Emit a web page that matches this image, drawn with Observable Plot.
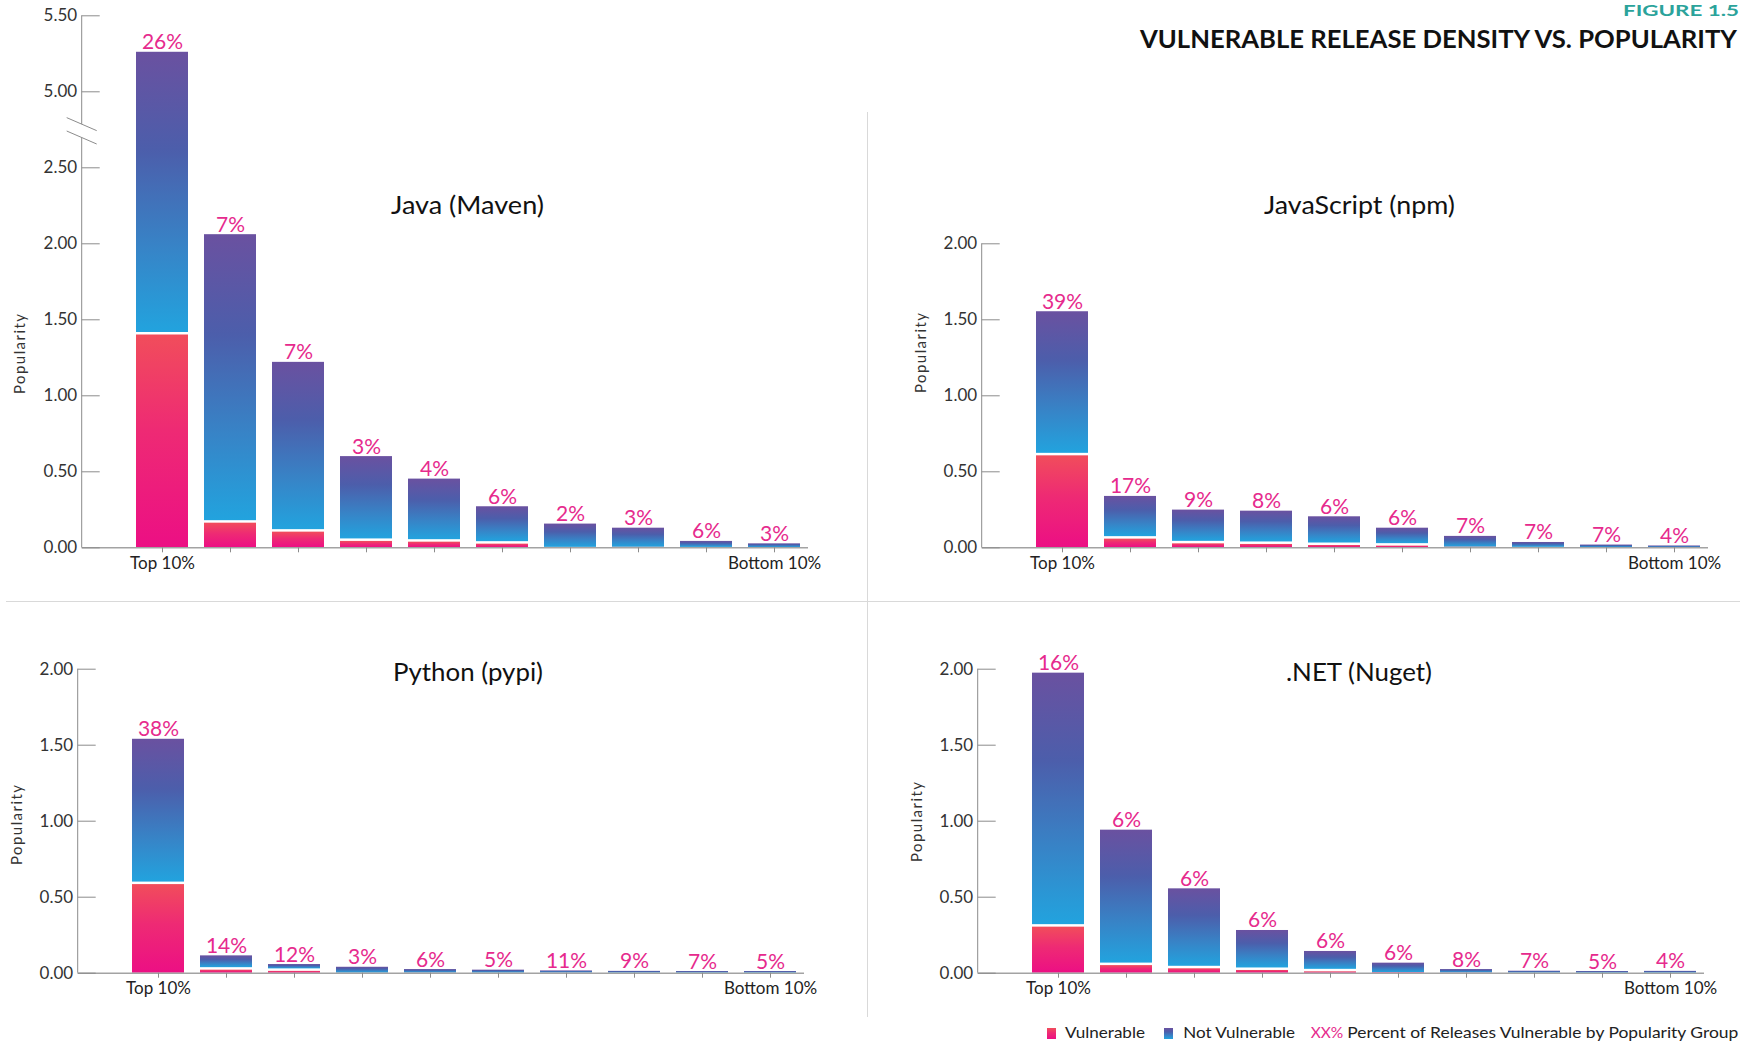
<!DOCTYPE html>
<html><head><meta charset="utf-8">
<script src="https://cdn.jsdelivr.net/npm/d3@7"></script>
<script src="https://cdn.jsdelivr.net/npm/@observablehq/plot@0.6"></script>
<style>
html,body{margin:0;padding:0;background:#fff;}
#root{position:relative;width:1762px;height:1044px;overflow:hidden;font-family:Lato,"Open Sans",sans-serif;}
.panel{position:absolute;}
#overlay{position:absolute;left:0;top:0;pointer-events:none;}
</style></head><body>
<div id="root">
<svg width="0" height="0" style="position:absolute">
 <defs>
  <linearGradient id="gVuln" x1="0" y1="1" x2="0" y2="0">
    <stop offset="0" stop-color="#EC0F84"/>
    <stop offset="0.55" stop-color="#EE2A74"/>
    <stop offset="1" stop-color="#F14D5B"/>
  </linearGradient>
  <linearGradient id="gSafe" x1="0" y1="1" x2="0" y2="0">
    <stop offset="0" stop-color="#22A3DE"/>
    <stop offset="0.3" stop-color="#3784C7"/>
    <stop offset="0.65" stop-color="#4C5EAB"/>
    <stop offset="1" stop-color="#6A51A0"/>
  </linearGradient>
 </defs>
</svg>
<div id="p-java" class="panel" style="left:0;top:0"></div>
<div id="p-npm" class="panel" style="left:900px;top:0"></div>
<div id="p-pypi" class="panel" style="left:0;top:600px"></div>
<div id="p-nuget" class="panel" style="left:900px;top:600px"></div>
<svg id="overlay" width="1762" height="1044" font-family="Lato, sans-serif">
 <line x1="867.5" y1="112" x2="867.5" y2="1017" stroke="#d9d9d9"/>
 <line x1="6" y1="601.5" x2="1740" y2="601.5" stroke="#d9d9d9"/>
 <text x="1739" y="16" text-anchor="end" font-weight="700" font-size="15.5" fill="#2BA39B" textLength="116" lengthAdjust="spacingAndGlyphs">FIGURE 1.5</text>
 <text x="1737" y="47.7" text-anchor="end" font-weight="700" font-size="25" fill="#111" textLength="597" lengthAdjust="spacingAndGlyphs">VULNERABLE RELEASE DENSITY VS. POPULARITY</text>
 <g font-size="25" fill="#111" text-anchor="middle">
  <text x="467.5" y="214" textLength="153" lengthAdjust="spacingAndGlyphs">Java (Maven)</text>
  <text x="1359.5" y="214" textLength="191" lengthAdjust="spacingAndGlyphs">JavaScript (npm)</text>
  <text x="468" y="680.5" textLength="150" lengthAdjust="spacingAndGlyphs">Python (pypi)</text>
  <text x="1359" y="680.5" textLength="146" lengthAdjust="spacingAndGlyphs">.NET (Nuget)</text>
 </g>
 <g font-size="15" fill="#333" text-anchor="middle">
  <text transform="translate(24.5,354) rotate(-90)" textLength="80" lengthAdjust="spacing">Popularity</text>
  <text transform="translate(926,353) rotate(-90)" textLength="80" lengthAdjust="spacing">Popularity</text>
  <text transform="translate(21.5,825) rotate(-90)" textLength="80" lengthAdjust="spacing">Popularity</text>
  <text transform="translate(922,822) rotate(-90)" textLength="80" lengthAdjust="spacing">Popularity</text>
 </g>
 <g font-size="15" fill="#222">
  <rect x="1047" y="1028" width="9" height="11" fill="url(#gVuln)"/>
  <text x="1065" y="1038.3" textLength="80" lengthAdjust="spacingAndGlyphs">Vulnerable</text>
  <rect x="1164" y="1028" width="9" height="11" fill="url(#gSafe)"/>
  <text x="1183.3" y="1038.3" textLength="111.7" lengthAdjust="spacingAndGlyphs">Not Vulnerable</text>
  <text x="1310.7" y="1038.3" fill="#E62A8D" textLength="32.6" lengthAdjust="spacingAndGlyphs">XX%</text>
  <text x="1347.3" y="1038.3" textLength="391" lengthAdjust="spacingAndGlyphs">Percent of Releases Vulnerable by Popularity Group</text>
 </g>
</svg>
</div>
<script>
// popularity groups (deciles)
const groups = ["D1","D2","D3","D4","D5","D6","D7","D8","D9","D10"];
const groupLabels = ["Top 10%","","","","","","","","","Bottom 10%"];

// Java (Maven)
const javaTotal = [5.26, 2.06, 1.22, 0.60, 0.452, 0.270, 0.156, 0.129, 0.042, 0.026];
const javaVuln  = [1.40, 0.162, 0.103, 0.042, 0.037, 0.024, 0.003, 0.004, 0.0025, 0.001];
const javaPct   = [26, 7, 7, 3, 4, 6, 2, 3, 6, 3];

// JavaScript (npm)
const npmTotal = [1.553, 0.338, 0.248, 0.241, 0.204, 0.129, 0.075, 0.035, 0.018, 0.012];
const npmVuln  = [0.605, 0.057, 0.026, 0.022, 0.015, 0.011, 0.005, 0.003, 0.001, 0.0004];
const npmPct   = [39, 17, 9, 8, 6, 6, 7, 7, 7, 4];

// Python (pypi)
const pypiTotal = [1.539, 0.114, 0.057, 0.039, 0.024, 0.020, 0.015, 0.012, 0.011, 0.011];
const pypiVuln  = [0.583, 0.020, 0.012, 0.001, 0.0015, 0.001, 0.0016, 0.001, 0.0006, 0.0005];
const pypiPct   = [38, 14, 12, 3, 6, 5, 11, 9, 7, 5];

// .NET (Nuget)
const nugetTotal = [1.974, 0.941, 0.555, 0.281, 0.143, 0.066, 0.024, 0.013, 0.011, 0.012];
const nugetVuln  = [0.303, 0.050, 0.029, 0.018, 0.009, 0.004, 0.002, 0.001, 0.0003, 0.0004];
const nugetPct   = [16, 6, 6, 6, 6, 6, 8, 7, 5, 4];

// y axis ticks
const javaTicks = [0, 0.5, 1, 1.5, 2, 2.5, 5, 5.5];
const stdTicks = [0, 0.5, 1, 1.5, 2];

const labelMap = new Map(groups.map((g, i) => [g, groupLabels[i]]));
const PINK = "#E62A8D";
const AXIS = "#8c8c8c";
const GAP_MIN = 0.008;

function axisLineMark(segs, breaks) {
  return (index, scales, values, dims) => {
    const y = scales.y, x0 = dims.marginLeft;
    const g = d3.create("svg:g").attr("stroke", AXIS).attr("stroke-width", 1).attr("fill", "none");
    for (const [a, b] of segs) g.append("line").attr("x1", x0).attr("x2", x0).attr("y1", y(a)).attr("y2", y(b));
    for (const v of breaks) g.append("line").attr("x1", x0 - 15).attr("y1", y(v) - 6.5).attr("x2", x0 + 15).attr("y2", y(v) + 6.5);
    return g.node();
  };
}

function panel(sel, cfg) {
  const {total, vuln, pct, yDomain, yRange, yTicks, segs, breaks, height, shift} = cfg;
  const rows = groups.map((g, i) => ({group: g, total: total[i], vuln: vuln[i], pct: pct[i]}));
  const W = 860;
  const chart = Plot.plot({
    width: W, height,
    marginTop: yRange[yRange.length - 1],
    marginBottom: height - yRange[0],
    marginLeft: 81.7 + shift,
    marginRight: W - (808 + shift),
    style: {background: "none", fontFamily: "Lato, sans-serif", overflow: "visible"},
    x: {type: "band", domain: groups, range: [134 + shift, 801.6 + shift], paddingInner: 0.24, paddingOuter: 0, align: 0.5},
    y: {type: "linear", domain: yDomain, range: yRange},
    marks: [
      Plot.barY(rows, {x: "group", y1: 0, y2: "vuln", fill: "url(#gVuln)"}),
      Plot.barY(rows, {filter: d => d.vuln >= GAP_MIN, x: "group", y1: "vuln", y2: "total", fill: "url(#gSafe)", insetBottom: 2.5}),
      Plot.barY(rows, {filter: d => d.vuln < GAP_MIN, x: "group", y1: "vuln", y2: "total", fill: "url(#gSafe)"}),
      Plot.ruleY([0], {stroke: "#a3a3a3", strokeWidth: 1.5}),
      axisLineMark(segs, breaks),
      Plot.axisY({ticks: yTicks, tickFormat: d3.format(".2f"), tickSize: -18, tickPadding: 23, fontSize: 17, stroke: AXIS, fill: "#333", label: null}),
      Plot.axisX({tickSize: 5, tickPadding: 4, tickFormat: d => labelMap.get(d), fontSize: 17, stroke: AXIS, fill: "#222", label: null}),
      Plot.text(rows, {x: "group", y: "total", text: d => d.pct + "%", lineAnchor: "bottom", dy: -3, fill: PINK, fontSize: 21})
    ]
  });
  document.querySelector(sel).append(chart);
}

panel("#p-java", {total: javaTotal, vuln: javaVuln, pct: javaPct,
  yDomain: [0, 2.5, 5, 5.5], yRange: [547.3, 167.3, 91.3, 15.3], yTicks: javaTicks,
  segs: [[0, 3.48], [3.92, 5.5]], breaks: [3.48, 3.92], height: 600, shift: 0});
panel("#p-npm", {total: npmTotal, vuln: npmVuln, pct: npmPct,
  yDomain: [0, 2], yRange: [547.3, 243.3], yTicks: stdTicks,
  segs: [[0, 2]], breaks: [], height: 600, shift: 0});
panel("#p-pypi", {total: pypiTotal, vuln: pypiVuln, pct: pypiPct,
  yDomain: [0, 2], yRange: [372.7, 68.7], yTicks: stdTicks,
  segs: [[0, 2]], breaks: [], height: 444, shift: -4});
panel("#p-nuget", {total: nugetTotal, vuln: nugetVuln, pct: nugetPct,
  yDomain: [0, 2], yRange: [372.7, 68.7], yTicks: stdTicks,
  segs: [[0, 2]], breaks: [], height: 444, shift: -4});
</script>
</body></html>
